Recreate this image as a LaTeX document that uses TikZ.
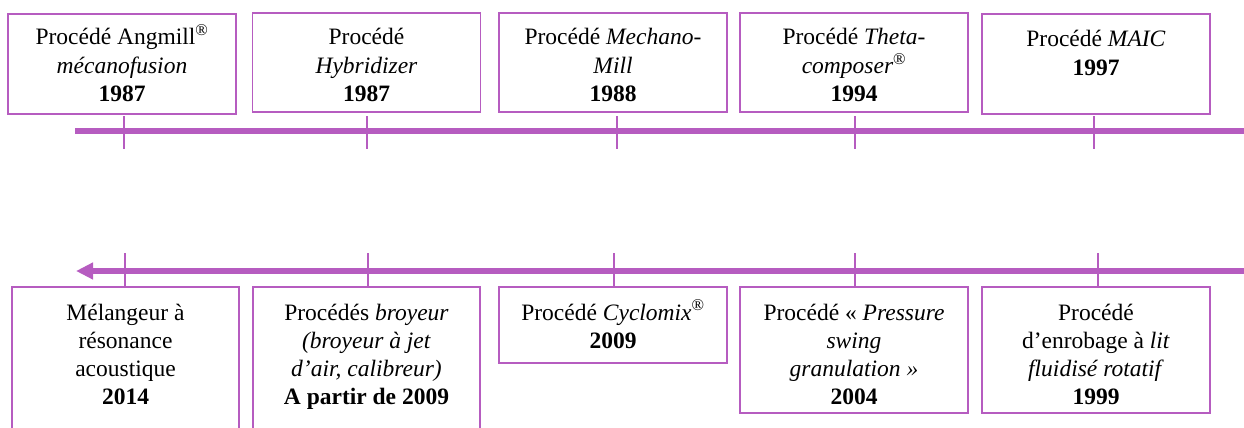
\documentclass[tikz,border=0pt]{standalone}
\usepackage{fontspec}
\setmainfont{Liberation Serif}
\usetikzlibrary{arrows.meta}
\definecolor{purp}{RGB}{182,92,192}
\newcommand{\btxt}[1]{\parbox[t]{226pt}{\centering #1}}
\begin{document}
\begin{tikzpicture}[x=1pt,y=-1pt,
  frame/.style={draw=purp,line width=1.8pt,inner sep=0pt,minimum width=228pt},
  txt/.style={inner sep=0pt,anchor=base,font=\fontsize{23.5}{28.3}\selectfont},
  axis/.style={draw=purp,line width=5.5pt},
  tick/.style={draw=purp,line width=1.8pt}]
\useasboundingbox (0,0) rectangle (1244,428);
\clip (0,0) rectangle (1244,428);
% top boxes
\node[frame,minimum height=100pt] (b1) at (122,64) {};
\node[frame,minimum height=99pt] (b2) at (366.5,62.5) {};
\node[frame,minimum height=99pt] (b3) at (613,62.5) {};
\node[frame,minimum height=99pt] (b4) at (854,62.5) {};
\node[frame,minimum height=100pt] (b5) at (1096,64) {};
\node[txt] (t1) at (122,45) {\btxt{Procédé Angmill\textsuperscript{®}\\ \textit{mécanofusion}\\ \textbf{1987}}};
\node[txt] (t2) at (366.5,45) {\btxt{Procédé\\ \textit{Hybridizer}\\ \textbf{1987}}};
\node[txt] (t3) at (613,45) {\btxt{Procédé \textit{Mechano-}\\ \textit{Mill}\\ \textbf{1988}}};
\node[txt] (t4) at (854,45) {\btxt{Procédé \textit{Theta-}\\ \textit{composer}\textsuperscript{®}\\ \textbf{1994}}};
\node[txt] (t5) at (1096,47) {\btxt{Procédé \textit{MAIC}\\ \textbf{1997}}};
% top axis
\coordinate (aL) at (75,131);
\coordinate (aR) at (1250,131);
\draw[axis] (aL) -- (aR);
\foreach \i/\x in {1/124,2/367,3/617,4/855,5/1094}{
  \coordinate (ut\i) at (\x,116);
  \coordinate (ub\i) at (\x,149);
  \draw[tick] (ut\i) -- (ub\i);
}
% bottom axis
\coordinate (cL) at (76,271);
\coordinate (cR) at (1250,271);
\draw[axis,-{Triangle[length=17pt,width=16pt]}] (cR) -- (cL);
\foreach \i/\x in {1/125,2/368,3/614,4/855,5/1098}{
  \coordinate (lt\i) at (\x,253);
  \coordinate (lb\i) at (\x,287);
  \draw[tick] (lt\i) -- (lb\i);
}
% bottom boxes
\node[frame,minimum width=227pt,minimum height=160pt] (c1) at (125.5,367) {};
\node[frame,minimum width=227pt,minimum height=160pt] (c2) at (366.5,367) {};
\node[frame,minimum height=76pt] (c3) at (613,325) {};
\node[frame,minimum height=126pt] (c4) at (854,350) {};
\node[frame,minimum height=126pt] (c5) at (1096,350) {};
\node[txt] (s1) at (125.5,320) {\btxt{Mélangeur à\\ résonance\\ acoustique\\ \textbf{2014}}};
\node[txt] (s2) at (366.5,320) {\btxt{Procédés \textit{broyeur}\\ \textit{(broyeur à jet}\\ \textit{d’air, calibreur)}\\ \textbf{A partir de 2009}}};
\node[txt] (s3) at (613,320) {\btxt{Procédé \textit{Cyclomix}\textsuperscript{®}\\ \textbf{2009}}};
\node[txt] (s4) at (854,320) {\btxt{Procédé « \textit{Pressure}\\ \textit{swing}\\ \textit{granulation »}\\ \textbf{2004}}};
\node[txt] (s5) at (1096,320) {\btxt{Procédé\\ d’enrobage à \textit{lit}\\ \textit{fluidisé rotatif}\\ \textbf{1999}}};
\end{tikzpicture}
\end{document}
